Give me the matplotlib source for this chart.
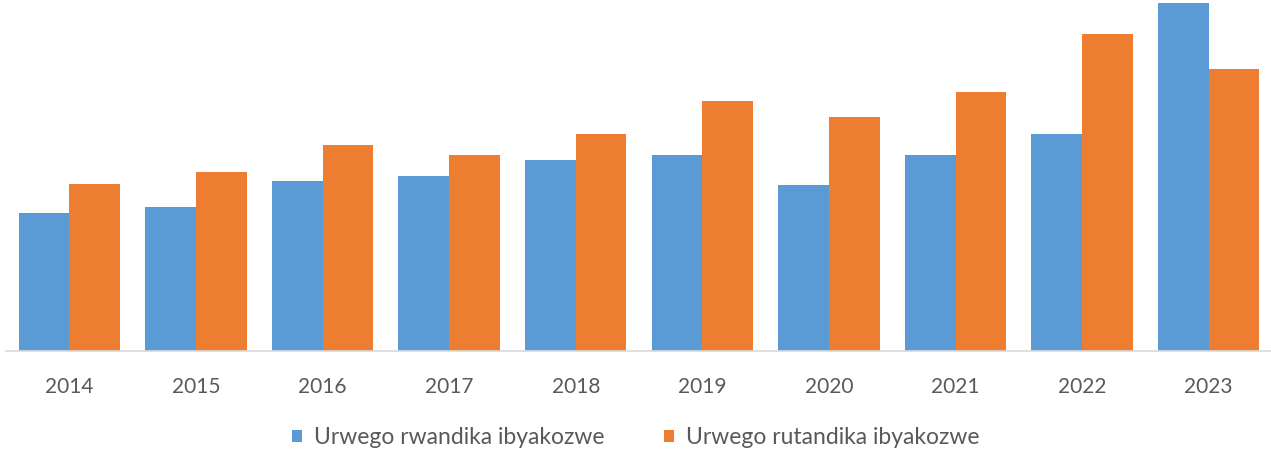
import matplotlib.pyplot as plt
import numpy as np

plt.rcParams['font.family'] = ['Lato', 'DejaVu Sans']

years = ['2014', '2015', '2016', '2017', '2018', '2019', '2020', '2021', '2022', '2023']
rwandika = [138, 144, 170, 175, 191, 196, 166, 196, 217, 348]
rutandika = [167, 179, 206, 196, 217, 250, 234, 259, 317, 282]

blue = '#5b9bd5'
orange = '#ed7d31'
grey = '#595959'

fig = plt.figure(figsize=(12.71, 4.53), dpi=100)
ax = fig.add_axes([6 / 1271, 102 / 453, 1266 / 1271, 351 / 453])

x = np.arange(len(years))
w = 0.4
ax.bar(x - w / 2, rwandika, w, color=blue, label='Urwego rwandika ibyakozwe')
ax.bar(x + w / 2, rutandika, w, color=orange, label='Urwego rutandika ibyakozwe')

ax.set_xlim(-0.5, len(years) - 0.5)
ax.set_ylim(0, 351)
ax.set_xticks(x)
ax.set_xticklabels(years, fontsize=15, color=grey)
ax.tick_params(axis='x', length=0, pad=19)
ax.set_yticks([])
for s in ['top', 'right', 'left']:
    ax.spines[s].set_visible(False)
ax.spines['bottom'].set_color('#d9d9d9')
ax.spines['bottom'].set_linewidth(1.2)

fig.legend(loc='center', bbox_to_anchor=(0.5, 1 - 438 / 453), ncol=2, frameon=False,
           fontsize=16.5, labelcolor=grey, handlelength=0.45, handleheight=0.45,
           handletextpad=0.5, columnspacing=2.6)

fig.savefig('out.png', dpi=100)
